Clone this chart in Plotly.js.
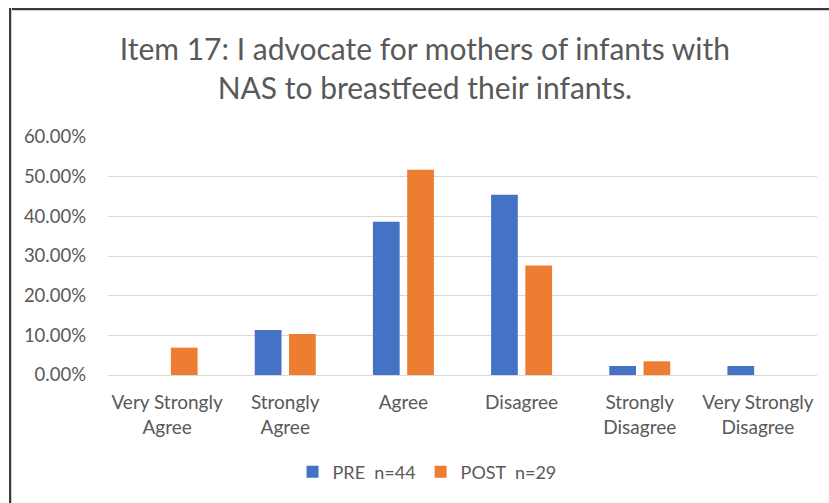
<!DOCTYPE html>
<html>
<head>
<meta charset="utf-8">
<script src="https://cdn.plot.ly/plotly-3.0.1.min.js"></script>
<style>
  html, body { margin: 0; padding: 0; background: #fff; overflow: hidden; width: 829px; height: 503px; }
  #wrap { position: relative; width: 829px; height: 503px; overflow: hidden; }
  #chart { position: absolute; left: 0; top: 0; width: 829px; height: 503px; }
  #frameTop { position: absolute; left: 9px; top: 8px; width: 820px; height: 2px; background: #3a3a3a; border-bottom: 1px solid #cfcfcf; }
  #frameLeft { position: absolute; left: 9px; top: 8px; width: 2px; height: 495px; background: #3a3a3a; border-right: 1px solid #cfcfcf; }
</style>
</head>
<body>
<div id="wrap">
  <div id="chart"></div>
  <div id="frameTop"></div>
  <div id="frameLeft"></div>
</div>
<script>
var categories = ["Very Strongly<br>Agree", "Strongly<br>Agree", "Agree", "Disagree", "Strongly<br>Disagree", "Very Strongly<br>Disagree"];
var preValues  = [0, 0.1136, 0.3864, 0.4545, 0.0227, 0.0227];
var postValues = [0.0690, 0.1034, 0.5172, 0.2759, 0.0345, 0];
var yTickVals  = [0, 0.1, 0.2, 0.3, 0.4, 0.5, 0.6];
var yTickText  = ["0.00%", "10.00%", "20.00%", "30.00%", "40.00%", "50.00%", "60.00%"];
var seriesNames = ["PRE\u00a0 n=44", "POST\u00a0 n=29"];

var font = "Lato, 'Open Sans', sans-serif";
var grey = "#595959";

var data = [
  { type: "bar", x: categories, y: preValues, name: seriesNames[0],
    marker: { color: "#4472C4" }, hoverinfo: "y" },
  { type: "bar", x: categories, y: postValues, name: seriesNames[1],
    marker: { color: "#ED7D31" }, hoverinfo: "y" }
];

var layout = {
  width: 829, height: 503,
  margin: { l: 108, r: 12, t: 137, b: 125 },
  paper_bgcolor: "#fff", plot_bgcolor: "#fff",
  font: { family: font, color: grey, size: 16 },
  title: {
    text: "Item 17: I advocate for mothers of infants with<br>NAS to breastfeed their infants.",
    font: { family: font, size: 30, color: grey },
    x: 0.447, xanchor: "center", xref: "paper",
    y: 0.88, yanchor: "middle", yref: "container"
  },
  barmode: "group",
  bargap: 0.42,
  bargroupgap: 0.22,
  xaxis: {
    type: "category",
    showgrid: false,
    showline: false,
    ticks: "",
    ticklabelstandoff: 14,
    tickfont: { family: font, size: 19, color: grey },
    automargin: false
  },
  yaxis: {
    range: [0, 0.6],
    tickvals: yTickVals,
    ticktext: yTickText,
    showgrid: true,
    gridcolor: "#d9d9d9",
    gridwidth: 1,
    zeroline: true,
    zerolinecolor: "#d9d9d9",
    zerolinewidth: 1,
    showline: false,
    ticks: "",
    ticklabelstandoff: 21,
    tickfont: { family: font, size: 18.5, color: grey },
    automargin: false
  },
  showlegend: true,
  legend: {
    orientation: "h",
    x: 0.45, xanchor: "center",
    y: -0.408, yanchor: "middle",
    font: { family: font, size: 18, color: grey },
    itemwidth: 30,
    traceorder: "normal"
  }
};

Plotly.newPlot("chart", data, layout, { displayModeBar: false, responsive: false });
</script>
</body>
</html>
